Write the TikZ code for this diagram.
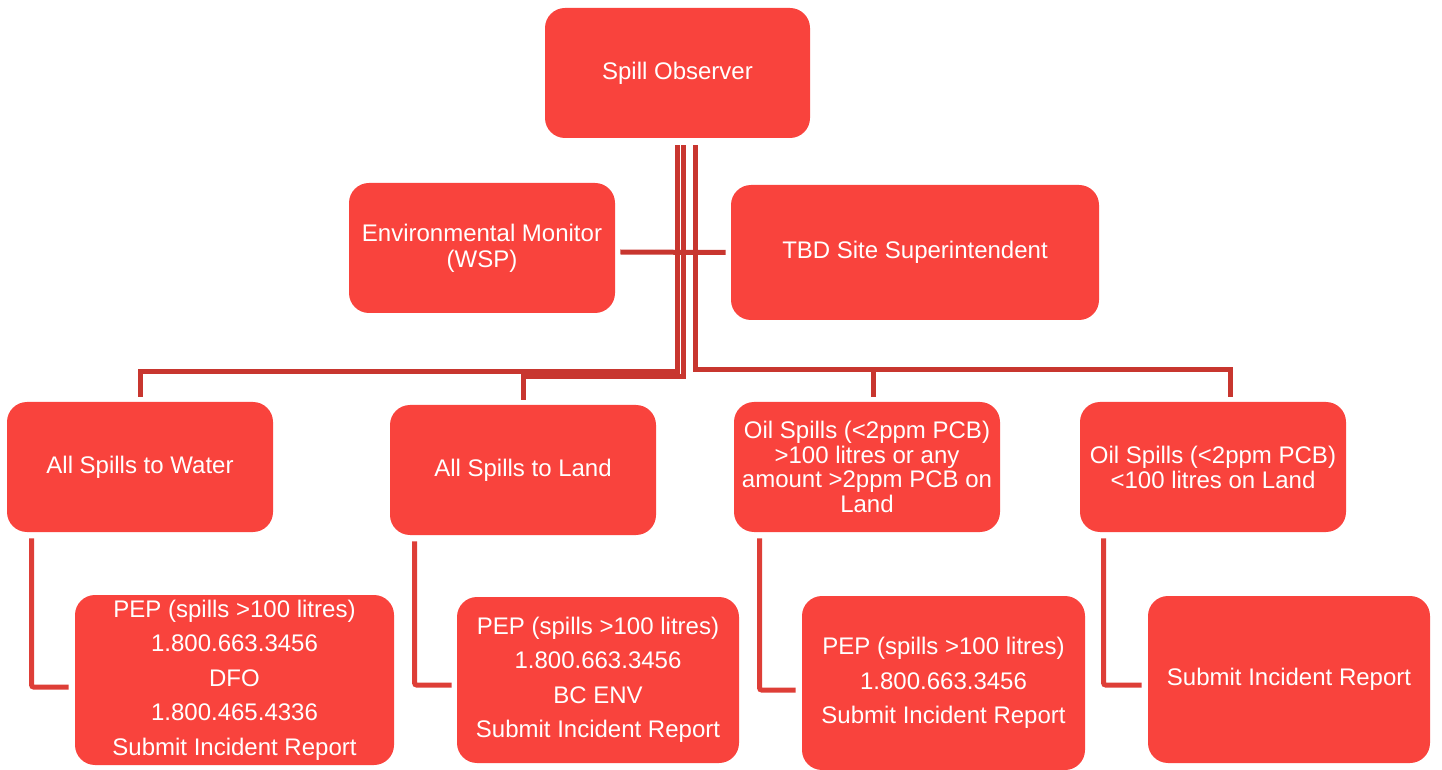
\documentclass[tikz,border=0pt]{standalone}
\usepackage{fontspec}
\setmainfont{Liberation Sans}
\usetikzlibrary{calc}
\definecolor{boxred}{RGB}{249,67,61}
\definecolor{trunkred}{RGB}{200,54,47}
\definecolor{legred}{RGB}{222,62,55}
\begin{document}
\begin{tikzpicture}[x=0.5pt,y=-0.5pt,
  box/.style={draw=none, fill=boxred, rounded corners=10pt, text=white, align=center, inner sep=0pt, font=\fontsize{12}{12.5}\selectfont},
  tight/.style={font=\fontsize{12}{12.25}\selectfont},
  loose/.style={font=\fontsize{12}{17.25}\selectfont},
  trunk/.style={draw=trunkred, line width=2.5pt},
  leg/.style={draw=legred, line width=2.5pt, rounded corners=1pt}]
\useasboundingbox (0,0) rectangle (1442,770);

% top level
\node[box, minimum width=265*0.5pt, minimum height=130*0.5pt] (so) at (677.5,73) {Spill Observer};
\node[box, minimum width=266*0.5pt, minimum height=130*0.5pt, font=\fontsize{12}{13}\selectfont] (em) at (482,248) {Environmental Monitor\\(WSP)};
\node[box, minimum width=368*0.5pt, minimum height=135*0.5pt] (tbd) at (915,252.5) {TBD Site Superintendent};

% second row
\node[box, minimum width=266*0.5pt, minimum height=130*0.5pt] (w) at (140,467) {All Spills to Water};
\node[box, minimum width=266*0.5pt, minimum height=130*0.5pt] (l) at (523,470) {All Spills to Land};
\node[box, tight, minimum width=266*0.5pt, minimum height=130*0.5pt] (o1) at (867,467) {Oil Spills (<2ppm PCB)\\>100 litres or any\\amount >2ppm PCB on\\Land};
\node[box, minimum width=266*0.5pt, minimum height=130*0.5pt] (o2) at (1213,467) {Oil Spills (<2ppm PCB)\\<100 litres on Land};

% third row
\node[box, loose, minimum width=319*0.5pt, minimum height=170*0.5pt] (pw) at (234.5,680) {PEP (spills >100 litres)\\1.800.663.3456\\DFO\\1.800.465.4336\\Submit Incident Report};
\node[box, loose, minimum width=282*0.5pt, minimum height=166*0.5pt] (pl) at (598,680) {PEP (spills >100 litres)\\1.800.663.3456\\BC ENV\\Submit Incident Report};
\node[box, loose, minimum width=283*0.5pt, minimum height=174*0.5pt] (po) at (943.5,683) {PEP (spills >100 litres)\\1.800.663.3456\\Submit Incident Report};
\node[box, minimum width=282*0.5pt, minimum height=167*0.5pt] (ps) at (1289,679.5) {Submit Incident Report};

% connectors from the observer
\draw[trunk] ($(em.east)+(5,4)$) -- ($(tbd.west)+(-5,0)$);
\draw[trunk] ($(so.south)+(0,7)$) |- ($(w.north)+(0,-30)$) -- ($(w.north)+(0,-5)$);
\draw[trunk] ($(so.south)+(5.5,7)$) |- ($(l.north)+(0,-28)$) -- ($(l.north)+(0,-5)$);
\draw[trunk] ($(so.south)+(17.5,7)$) |- ($(o1.north)+(6,-32)$) -- ($(o1.north)+(6,-5)$);
\draw[trunk] ($(so.south)+(17.5,7)$) |- ($(o2.north)+(17,-32)$) -- ($(o2.north)+(17,-5)$);

% legs to the third row
\draw[leg] ($(w.south west)+(25,6)$) |- ($(pw.west)+(-6,7)$);
\draw[leg] ($(l.south west)+(25,6)$) |- ($(pl.west)+(-5,5)$);
\draw[leg] ($(o1.south west)+(26,6)$) |- ($(po.west)+(-6,7)$);
\draw[leg] ($(o2.south west)+(24,6)$) |- ($(ps.west)+(-6,5.5)$);
\end{tikzpicture}
\end{document}
